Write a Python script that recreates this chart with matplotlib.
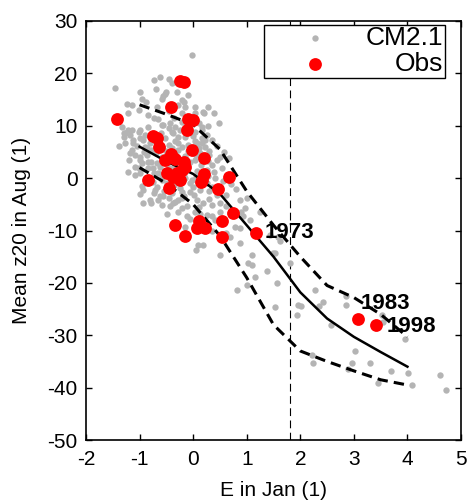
import matplotlib
matplotlib.use('Agg')
import matplotlib.pyplot as plt
from matplotlib.patches import Rectangle

plt.rcParams['font.family'] = ['Liberation Sans', 'DejaVu Sans']
plt.rcParams['axes.unicode_minus'] = False

# CM2.1 model scatter (E in Jan, mean z20 in Aug)
cm_x = [-1.46, -0.99, -0.74, -0.62, -0.46, -0.40, -0.31, -0.51, -0.53, -0.96,
        -0.59, -0.56, -0.21, -0.18, -0.15, -1.24, -1.14, -1.02, -0.68, -0.28,
        -1.21, -0.74, -0.65, -0.21, 0.03, 0.19, 0.03, 0.28, 0.38, 0.20,
        -0.03, -0.56, -0.43, 0.49, 0.28, -0.84, -0.45, -0.35, -0.10, -0.70,
        -0.88,
        -1.33, -1.15, -1.27, -1.02, -0.90, -0.84, -0.59, -0.40, -0.34, -0.25,
        -0.28, -0.34, -0.53, -1.12, -0.99, -1.15, -1.09, -0.99, -0.87, -0.90,
        -0.78, -0.59, -0.46, -0.21, -0.09, 0.03, 0.16, -0.15, 0.16, 0.03,
        -0.28, -0.59, -0.34, 0.03, -0.68, -0.21, -1.09, -0.84, -1.30, -1.18,
        -1.27, -1.12, -0.99, -0.93, -0.87, -0.78, -0.99, -1.18, -0.99, -0.74,
        -0.37, -0.28, 0.07, 0.16, 0.22, 0.25, 0.07, -0.62, 0.25, 0.36,
        0.30, 0.50, 0.66, 0.53, 0.16, 0.22, 0.44, 0.41, -1.02, -1.09,
        -1.30, -1.21, 0.12, -0.45, -0.40, -0.15, -0.05, 0.35, 0.10, -0.50,
        -0.70, -0.65, -0.20, 0.10, -0.80, -0.95, -0.58, 0.28, 0.58, 0.45,
        -0.12, -1.38,
        -0.85, -0.75, -0.65, -0.55, -0.45, -0.35, -0.25, -0.15, -0.05, 0.05,
        0.15, 0.05, -0.10, -0.30, -0.50, -0.70, -0.80, -0.60, -0.45, -0.15,
        0.00, 0.10, 0.30, 0.38, 0.20, 0.02, -0.20, -0.35, -0.55, -0.75,
        -0.88, -0.95, -1.00, -0.65, -0.45, -0.28, 0.10, 0.30, 0.45, 0.50,
        -0.05, 0.12, 0.35, -0.40, -0.32, -0.18, 0.28, -0.92, -1.05, -1.20,
        -1.22,
        -0.59, -0.49, -0.25, -0.03, 0.00, 0.25, 0.13, 0.19, 0.07, -0.12,
        -0.18, -0.37, -0.81, -0.62, -0.93, -0.68, -0.71, -0.93, -0.78, -0.56,
        -0.59, -0.43, -0.34, -0.21, -0.21, -0.12, 0.03, -0.15, 0.09, 0.19,
        0.44, 0.62, 0.35, 0.50, 0.25, 0.41, 0.87, 1.00, 1.06, 0.87,
        0.69, 0.87, 0.97, 1.25, 1.43, 1.59, 1.53, 0.50, 1.09, 1.03,
        1.37, 1.81, 0.35, 0.62, 0.90, 0.78, 0.62, 0.06, -0.74, 0.93,
        1.62, 1.49, -0.40, -0.05, 0.30, -0.28, -0.48, 0.15, 0.70, 0.55,
        0.80, 0.35,
        1.09, 1.15, 1.00, 0.82, 1.56, 1.53, 1.96, 2.02, 1.93, 2.27,
        2.43, 2.34, 2.24, 2.21, 2.58, 2.86, 2.86, 3.02, 2.96, 2.89,
        3.30, 3.45, 3.70, 4.01, 4.09, 3.95, 4.60, 4.72, 3.52, 3.55]
cm_y = [17.3, 16.5, 18.7, 19.4, 18.9, 18.1, 16.5, 16.5, 16.0, 15.2,
        15.2, 15.6, 14.9, 14.5, 13.6, 14.2, 14.0, 13.0, 13.5, 14.0,
        12.5, 11.4, 11.2, 12.4, 12.4, 12.7, 13.6, 13.6, 12.4, 12.4,
        23.5, 10.2, 10.5, 10.5, 10.0, 12.0, 12.8, 11.5, 15.8, 17.0,
        14.5,
        9.8, 9.2, 8.6, 8.9, 8.2, 9.8, 10.2, 8.9, 9.8, 9.2,
        7.9, 7.0, 7.6, 7.3, 7.6, 5.4, 4.4, 3.5, 4.4, 6.0,
        5.4, 6.0, 6.3, 6.0, 6.3, 7.0, 6.7, 7.9, 9.8, 8.9,
        5.4, 4.1, 4.8, 3.5, 2.8, 2.8, 2.2, 1.9, 8.6, 8.2,
        6.7, 6.7, 9.2, 7.3, 5.7, 3.1, 4.1, 4.8, 0.9, 0.9,
        8.6, 6.7, 6.7, 7.6, 6.0, 1.6, 1.3, 2.2, 8.2, 7.3,
        5.2, 4.1, 3.8, 1.9, 9.2, 7.3, 3.5, 0.0, 1.9, 0.6,
        7.9, 9.2, 4.8, 2.0, 5.8, 4.2, 3.0, 2.6, 0.5, 1.0,
        4.8, 7.0, 10.8, 10.6, 6.8, 2.8, 0.3, 3.2, 5.0, 6.2,
        1.5, 6.2,
        3.0, 2.0, 1.0, 3.8, 3.0, 2.2, 1.0, 0.0, -1.0, 0.2,
        2.5, 4.5, 5.2, 3.6, 5.2, 6.0, 7.8, 8.6, 9.5, 9.6,
        8.0, 5.8, 4.4, 1.2, -0.2, -3.2, -2.6, -1.4, -2.4, -0.8,
        -0.5, -1.5, -3.0, -4.2, -3.8, -4.2, -5.6, -4.0, -2.2, -4.8,
        -7.8, -6.8, -7.2, 0.2, -0.6, 0.8, 0.4, 5.0, 6.2, 3.4,
        1.2,
        -0.3, -1.0, -1.9, -0.3, -1.6, -1.0, -2.3, -4.8, -4.2, -5.4,
        -3.5, -4.8, -4.2, -3.5, -2.3, -1.6, -2.3, -4.8, -4.8, -3.5,
        -5.1, -5.4, -4.5, -3.8, -5.7, -7.3, -6.4, -9.3, -12.7, -12.7,
        -3.2, -3.2, -5.1, -6.4, -7.0, -8.0, -4.2, -3.8, -8.0, -9.6,
        -11.2, -12.4, -5.7, -6.4, -10.8, -11.2, -14.3, -14.7, -14.7, -16.2,
        -17.8, -16.2, -1.6, -5.4, -6.4, -9.3, -10.5, -13.7, -2.9, -7.3,
        -12.1, -14.3, -2.8, -2.6, -2.5, -6.5, -6.8, -8.6, -1.2, -0.6,
        -2.0, -10.0,
        -16.6, -18.9, -20.4, -21.3, -20.1, -24.7, -24.2, -24.5, -26.1, -21.3,
        -23.6, -24.5, -35.3, -33.7, -28.0, -22.6, -24.2, -33.1, -35.3, -36.5,
        -35.3, -39.2, -36.9, -37.2, -39.5, -30.8, -37.6, -40.4, -26.1, -27.4]

# observations
obs_x = [-1.43, -0.25, -0.18, -0.41, -0.09, 0.00, -0.12, -0.75, -0.68, -0.63,
         -0.02, 0.20, -0.41, -0.53, -0.18, -0.34, -0.21, -0.49, -0.37, -0.25,
         -0.31, 0.20, 0.14, -0.84, -0.45, 0.66, 0.46, 0.74, -0.34, -0.15,
         0.10, 0.07, 0.23, 0.54, 0.54, -0.15, 0.16, 1.17, 3.08, 3.41]
obs_y = [11.3, 18.6, 18.3, 13.6, 11.2, 11.1, 9.1, 8.0, 7.7, 6.0,
         5.4, 3.8, 4.6, 3.5, 3.1, 3.7, 1.6, 0.9, 0.3, -0.3,
         0.9, 0.8, -0.7, -0.3, -1.9, 0.2, -2.1, -6.7, -8.9, -11.0,
         -8.1, -9.6, -9.6, -8.2, -11.3, 2.2, -0.3, -10.4, -26.9, -28.0]

# labelled years: (label, x, y, offset in points)
year_labels = ['1973', '1983', '1998']
year_x = [1.17, 3.08, 3.41]
year_y = [-10.4, -26.9, -28.0]
year_off = [(6.5, 0), (2, 11), (8, -1)]

# binned mean and spread curves
bin_x = [-1.0, -0.5, 0.0, 0.5, 1.0, 1.5, 2.0, 2.5, 3.0, 3.5, 4.0]
mean_y = [6.0, 3.2, 0.8, -3.0, -9.0, -15.0, -21.8, -26.8, -30.3, -33.2, -36.0]
upper_y = [14.0, 12.2, 10.2, 5.5, -2.5, -9.0, -15.0, -20.5, -22.8, -26.0, -30.3]
lower_y = [2.0, -1.0, -5.0, -11.0, -19.0, -28.0, -33.0, -35.0, -36.8, -38.5, -39.5]

threshold = 1.8

fig = plt.figure(figsize=(4.68, 5.01), dpi=100)
ax = fig.add_axes([86 / 468, 1 - 440 / 501, 375 / 468, 419 / 501])

ax.axvline(threshold, color='k', lw=0.8, dashes=(7, 4), zorder=1)
ax.scatter(cm_x, cm_y, s=21, color='#b4b4b4', linewidths=0, zorder=2)
ax.plot(bin_x, mean_y, color='k', lw=1.8, zorder=3)
ax.plot(bin_x, upper_y, color='k', lw=2.2, dashes=(3.4, 2.0), zorder=3)
ax.plot(bin_x, lower_y, color='k', lw=2.2, dashes=(3.4, 2.0), zorder=3)
ax.scatter(obs_x, obs_y, s=85, color='red', linewidths=0, zorder=4)

for lab, x, y, off in zip(year_labels, year_x, year_y, year_off):
    ax.annotate(lab, (x, y), xytext=off, textcoords='offset points',
                ha='left', va='center', fontsize=16, fontweight='bold', zorder=5)

ax.set_xlim(-2, 5)
ax.set_ylim(-50, 30)
ax.set_xticks(range(-2, 6))
ax.set_yticks(range(-50, 31, 10))
ax.tick_params(direction='in', length=4.5, width=1, top=True, right=True,
               labelsize=15)
ax.tick_params(axis='x', pad=7)
ax.tick_params(axis='y', pad=6)
for sp in ax.spines.values():
    sp.set_linewidth(1.2)
ax.set_xlabel('E in Jan (1)', fontsize=15, labelpad=9)
ax.set_ylabel('Mean z20 in Aug (1)', fontsize=15, labelpad=12)

# legend box
ax.add_patch(Rectangle((0.475, 0.864), 0.482, 0.126, transform=ax.transAxes,
                       facecolor='white', edgecolor='k', lw=1, zorder=6))
ax.scatter([0.611], [0.959], s=21, color='#b4b4b4', linewidths=0,
           transform=ax.transAxes, zorder=7)
ax.scatter([0.611], [0.897], s=85, color='red', linewidths=0,
           transform=ax.transAxes, zorder=7)
ax.text(0.952, 0.959, 'CM2.1', transform=ax.transAxes, ha='right', va='center',
        fontsize=19, zorder=7)
ax.text(0.952, 0.897, 'Obs', transform=ax.transAxes, ha='right', va='center',
        fontsize=19, zorder=7)

fig.savefig('out.png', dpi=100)
